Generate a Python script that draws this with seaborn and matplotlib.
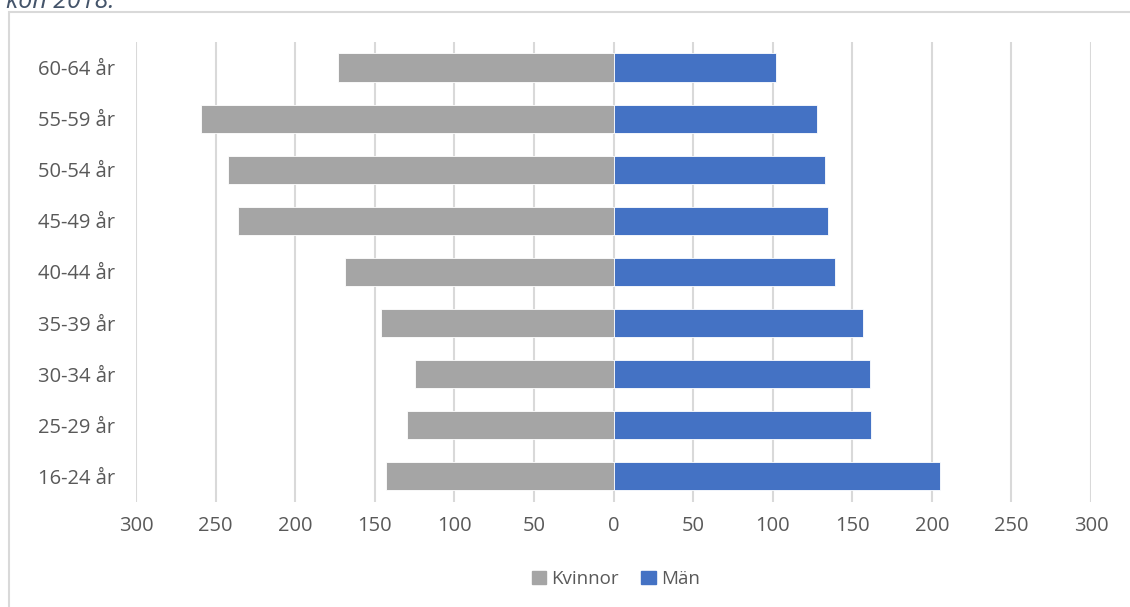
import pandas as pd
import matplotlib.pyplot as plt
import matplotlib.patches as patches
import seaborn as sns

aldersgrupper = ["60-64 år", "55-59 år", "50-54 år", "45-49 år", "40-44 år",
                 "35-39 år", "30-34 år", "25-29 år", "16-24 år"]
kvinnor = [173, 259, 242, 236, 169, 146, 125, 130, 143]
man = [102, 128, 133, 135, 139, 157, 161, 162, 205]
xticks = [-300, -250, -200, -150, -100, -50, 0, 50, 100, 150, 200, 250, 300]

df = pd.DataFrame({
    "grupp": aldersgrupper * 2,
    "antal": [-v for v in kvinnor] + man,
    "kön": ["Kvinnor"] * len(kvinnor) + ["Män"] * len(man),
})

sns.set_style("white")
plt.rcParams["font.family"] = ["Open Sans", "DejaVu Sans"]

fig = plt.figure(figsize=(11.3, 6.07), dpi=100)
ax = fig.add_axes([0.1204, 0.173, 0.8451, 0.758])

# ram runt diagrammet
fig.patches.append(patches.Rectangle((9 / 1130, -0.05), 1.1, (595 / 607) + 0.05,
                                     transform=fig.transFigure, fill=False,
                                     edgecolor="#D9D9D9", linewidth=1.5))
fig.text(6 / 1130, 0.997, "kön 2018.", fontsize=18, style="italic",
         color="#44546A", va="center", ha="left")

sns.barplot(data=df, y="grupp", x="antal", hue="kön", dodge=False,
            order=aldersgrupper, palette={"Kvinnor": "#A5A5A5", "Män": "#4472C4"},
            saturation=1, width=0.55, edgecolor="white", linewidth=0.6, ax=ax,
            legend=False)

ax.set_xlim(-300, 300)
ax.set_ylim(8.5, -0.5)
ax.set_xticks(xticks)
ax.set_xticklabels([str(abs(t)) for t in xticks])
ax.xaxis.grid(True, color="#D9D9D9", linewidth=1.5)
ax.set_axisbelow(True)
for s in ax.spines.values():
    s.set_visible(False)
ax.set_xlabel("")
ax.set_ylabel("")
ax.tick_params(axis="x", length=0, pad=10, labelsize=14.5, labelcolor="#595959")
ax.tick_params(axis="y", length=0, pad=15, labelsize=14.5, labelcolor="#595959")

handles = [patches.Patch(color="#A5A5A5", label="Kvinnor"),
           patches.Patch(color="#4472C4", label="Män")]
fig.legend(handles=handles, loc="center", bbox_to_anchor=(0.545, 0.046), ncol=2,
           frameon=False, fontsize=13.5, labelcolor="#595959", handlelength=0.75,
           handleheight=0.75, handletextpad=0.3, columnspacing=1.2)

fig.savefig("out.png", dpi=100)
